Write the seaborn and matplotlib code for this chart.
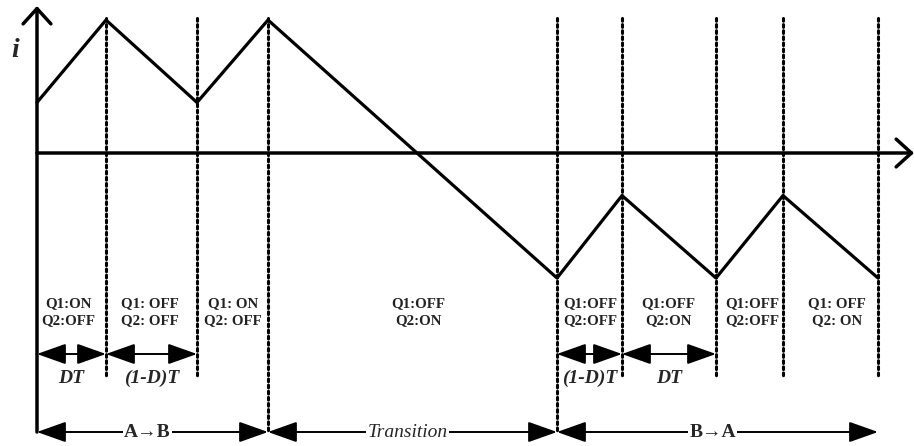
import matplotlib
matplotlib.use("Agg")
import matplotlib.pyplot as plt
import seaborn as sns

# Waveform breakpoints (time in arbitrary units, current normalised)
t_points = [0, 69, 160, 231, 520, 585, 679, 746, 841]
i_points = [0.38, 1.0, 0.38, 1.0, -0.94, -0.32, -0.94, -0.32, -0.94]

# Switch states for each interval (centres in time units)
state_t = [31, 113, 196, 381, 553, 631, 715, 800]
state_labels = ["Q1:ON\nQ2:OFF", "Q1: OFF\nQ2: OFF", "Q1: ON\nQ2: OFF", "Q1:OFF\nQ2:ON",
                "Q1:OFF\nQ2:OFF", "Q1:OFF\nQ2:ON", "Q1:OFF\nQ2:OFF", "Q1: OFF\nQ2: ON"]

# Duration brackets (row 1) and mode brackets (row 2)
dur_spans = [(0, 69), (69, 160), (520, 585), (585, 679)]
dur_labels = ["DT", "(1-D)T", "(1-D)T", "DT"]
mode_spans = [(0, 231), (231, 520), (520, 841)]
mode_labels = ["A\u2192B", "Transition", "B\u2192A"]

# Long dotted lines reach the mode row
long_marks = [231, 520]

sns.set_theme(style="white")
plt.rcParams['font.family'] = ['Liberation Serif', 'DejaVu Serif']

fig = plt.figure(figsize=(9.14, 4.46), dpi=100)
ax = fig.add_axes([0, 0, 1, 1])
# pixel mapping: x_px = 37 + t ; y_px = 153 - 133 * i
ax.set_xlim(-37, 914 - 37)
ax.set_ylim((153 - 446) / 133, 153 / 133)
ax.set_axis_off()

y_dur = (153 - 354) / 133
y_mode = (153 - 432) / 133
y_top = (153 - 18) / 133
y_short = (153 - 378) / 133

# dotted markers
for tv in t_points[1:]:
    bottom = y_mode if tv in long_marks else y_short
    ax.plot([tv, tv], [y_top, bottom], color="black", lw=2.2,
            linestyle=(0, (0.9, 1.1)), dash_capstyle="round")

# axes with open arrows
ax.annotate("", xy=(0, (153 - 6) / 133), xytext=(0, y_mode),
            arrowprops=dict(arrowstyle="->,head_length=0.55,head_width=0.5",
                            lw=2.5, color="black", shrinkA=0, shrinkB=0, mutation_scale=20))
ax.annotate("", xy=(877, 0), xytext=(0, 0),
            arrowprops=dict(arrowstyle="->,head_length=0.55,head_width=0.5",
                            lw=2.5, color="black", shrinkA=0, shrinkB=0, mutation_scale=20))

# current waveform
sns.lineplot(x=t_points, y=i_points, color="black", lw=2.3, estimator=None,
             sort=False, ax=ax)

ax.text(-22, 0.77, "i", fontsize=20, fontstyle="italic", fontweight="bold",
        ha="center", va="center")

for tv, lab in zip(state_t, state_labels):
    ax.text(tv, -1.195, lab, fontsize=10.8, fontweight="bold", color="#222222",
            ha="center", va="center", linespacing=1.35)

arrow_kw = dict(arrowstyle="<|-|>,head_length=0.9,head_width=0.32", lw=1.4,
                color="black", shrinkA=0, shrinkB=0, mutation_scale=20)

for (a, b), lab in zip(dur_spans, dur_labels):
    ax.annotate("", xy=(b, y_dur), xytext=(a, y_dur), arrowprops=arrow_kw)
    ax.text((a + b) / 2, y_short, lab, fontsize=14, fontstyle="italic",
            fontweight="bold", ha="center", va="center")

for (a, b), lab in zip(mode_spans, mode_labels):
    ax.annotate("", xy=(b, y_mode), xytext=(a, y_mode), arrowprops=arrow_kw)
    style = "italic" if lab == "Transition" else "normal"
    weight = "normal" if lab == "Transition" else "bold"
    ax.text((a + b) / 2 - 5, y_mode, lab, fontsize=14, fontstyle=style,
            fontweight=weight, ha="center", va="center",
            bbox=dict(facecolor="white", edgecolor="none", pad=1))

fig.savefig("out.png", dpi=100)
